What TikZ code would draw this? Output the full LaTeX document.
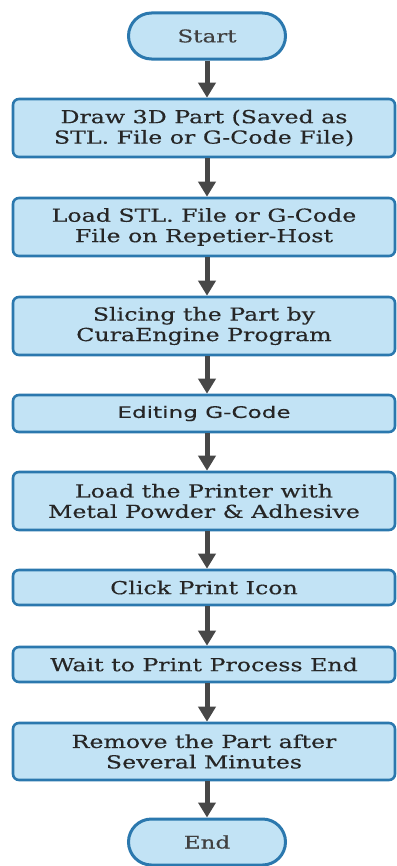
\documentclass[tikz,border=0pt]{standalone}
\usepackage{fontspec}
\setmainfont{DejaVu Serif}[FakeStretch=1.32, FakeBold=0.4]
\newfontfamily\boxsans{DejaVu Sans}[FakeStretch=1.45, FakeBold=0.3]
\usetikzlibrary{arrows.meta, positioning}
\definecolor{boxfill}{HTML}{C2E3F5}
\definecolor{boxline}{HTML}{2B78AE}
\definecolor{arrowgray}{HTML}{474747}

\begin{document}
\begin{tikzpicture}[x=1bp, y=-1bp,
    stepbox/.style={draw=boxline, fill=boxfill, line width=2.6bp, rounded corners=6bp,
        minimum width=382bp, align=center, inner sep=0pt,
        font=\fontsize{18}{20.5}\selectfont, text=black!85},
    endbox/.style={draw=boxline, fill=boxfill, line width=3bp, rounded corners=23bp,
        minimum width=157bp, minimum height=46bp, inner sep=0pt,
        font=\fontsize{17.5}{20}\selectfont, text=black!75},
    flow/.style={arrowgray, line width=5bp, -{Triangle[width=17bp, length=15bp]}}]

    \useasboundingbox (0,0) rectangle (396,866);

    % Terminals and steps
    \node[endbox] (start) at (207, 36) {Start};
    \node[stepbox, minimum height=58bp] (draw) at (204, 128) {Draw 3D Part (Saved as\\STL. File or G-Code File)};
    \node[stepbox, minimum height=58bp] (load) at (204, 227) {Load STL. File or G-Code\\File on Repetier-Host};
    \node[stepbox, minimum height=58bp] (slice) at (204, 326) {Slicing the Part by\\CuraEngine Program};
    \node[stepbox, minimum height=37bp, font=\boxsans\fontsize{16}{18}\selectfont] (edit) at (204, 413.5) {Editing G-Code};
    \node[stepbox, minimum height=58bp] (printer) at (204, 501) {Load the Printer with\\Metal Powder \& Adhesive};
    \node[stepbox, minimum height=35bp] (click) at (204, 587.5) {Click Print Icon};
    \node[stepbox, minimum height=35bp] (wait) at (204, 664.5) {Wait to Print Process End};
    \node[stepbox, minimum height=57bp] (remove) at (204, 751.5) {Remove the Part after\\Several Minutes};
    \node[endbox] (end) at (207, 842) {End};

    % Arrows
    \draw[flow] (start.south) -- (start.south |- draw.north);
    \draw[flow] (start.south |- draw.south) -- (start.south |- load.north);
    \draw[flow] (start.south |- load.south) -- (start.south |- slice.north);
    \draw[flow] (start.south |- slice.south) -- (start.south |- edit.north);
    \draw[flow] (start.south |- edit.south) -- (start.south |- printer.north);
    \draw[flow] (start.south |- printer.south) -- (start.south |- click.north);
    \draw[flow] (start.south |- click.south) -- (start.south |- wait.north);
    \draw[flow] (start.south |- wait.south) -- (start.south |- remove.north);
    \draw[flow] (start.south |- remove.south) -- (end.north);

\end{tikzpicture}
\end{document}
